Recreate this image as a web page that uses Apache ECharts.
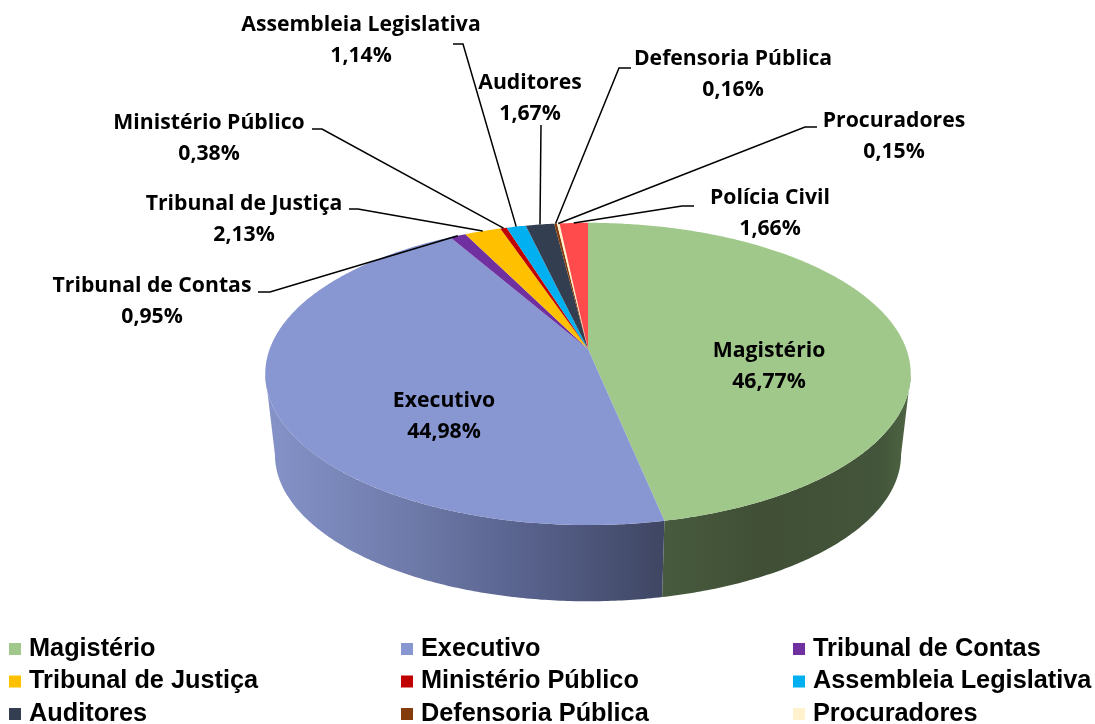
<!DOCTYPE html>
<html><head><meta charset="utf-8">
<style>html,body{margin:0;padding:0;background:#fff}#c{width:1095px;height:724px}</style>
<script src="https://cdn.jsdelivr.net/npm/echarts@6/dist/echarts.min.js"></script>
</head><body><div id="c"></div>
<script>
const categories = ['Magistério','Executivo','Tribunal de Contas','Tribunal de Justiça','Ministério Público','Assembleia Legislativa','Auditores','Defensoria Pública','Procuradores','Polícia Civil'];
const shares = [46.77,44.98,0.95,2.13,0.38,1.14,1.67,0.16,0.15,1.66];
const sliceColors = ['#A0C88A','#8896D2','#7030A0','#FFC000','#C00000','#00B0F0','#333F50','#843C0C','#FFF2CC','#FF4B4B'];
const labelCenters = [[769,366],[444,416],[152,301],[244,219],[209,138],[361,40],[530,98],[733,74],[894,136],[770,213]];
const leaderElbows = [null,null,[[258,292],[270,292]],[[349,209],[358,209]],[[312,129],[322,129]],[[453,44],[463,44]],[[541,125],[541,125]],[[631,68],[619,68]],[[817,127],[805,127]],[[694,206],[682,206]]];
const legendColumns = [
  {left:9, names:['Magistério','Tribunal de Justiça','Auditores']},
  {left:401,names:['Executivo','Ministério Público','Defensoria Pública']},
  {left:793,names:['Tribunal de Contas','Assembleia Legislativa','Procuradores']}
];
const wallStops = {
  0:[[0,'#4F6644'],[0.12,'#43553A'],[0.6,'#404F36'],[1,'#485B3E']],
  1:[[0,'#8593C9'],[0.35,'#6F7BAA'],[0.65,'#58628D'],[1,'#3F4663']]
};

const total = shares.reduce((a,b)=>a+b,0);
const starts = []; shares.reduce((a,b,i)=>{starts[i]=a;return a+b;},0);
const CX=588, CY=349, AX=318.3, AY=147, K=0.165, DROP=81.5, BOTTOM=0.97;
const VIS0=Math.acos(-K), VIS1=2*Math.PI-VIS0;
const ang=v=>v/total*2*Math.PI;
function proj(t,bottom){
  const v=Math.sin(t),u=-Math.cos(t),d=1-K*u,s=bottom?BOTTOM:1;
  return [CX+AX*s*v/d,(bottom?CY+DROP:CY)+AY*s*u/d];
}
function arc(a,b,bottom){
  const n=Math.max(2,Math.ceil(Math.abs(b-a)/0.01)),p=[];
  for(let i=0;i<=n;i++)p.push(proj(a+(b-a)*i/n,bottom));
  return p;
}
function renderSlice(i,api){
  const a=ang(starts[i]),b=a+ang(api.value(0));
  const kids=[];
  const w0=Math.max(a,VIS0),w1=Math.min(b,VIS1);
  if(w1>w0){
    const pts=arc(w0,w1,false).concat(arc(w1,w0,true));
    const xs=pts.map(p=>p[0]),x0=Math.min(...xs),x1=Math.max(...xs);
    const stops=wallStops[i].map(s=>({offset:s[0],color:s[1]}));
    kids.push({type:'polygon',z2:1,shape:{points:pts},style:{fill:{type:'linear',x:i?x0:x1,y:0,x2:i?x1:x0,y2:0,global:true,colorStops:stops}}});
  }
  const top=[[CX,CY]].concat(arc(a,b,false));
  kids.push({type:'polygon',z2:2,shape:{points:top},style:{fill:sliceColors[i]}});
  const el=leaderElbows[i];
  if(el){
    kids.push({type:'polyline',z2:3,shape:{points:el.concat([proj((a+b)/2,false)])},style:{stroke:'#000',lineWidth:1.5,fill:null}});
  }
  const c=labelCenters[i];
  kids.push({type:'text',z2:4,x:c[0],y:c[1],style:{text:categories[i]+'\n'+shares[i].toFixed(2).replace('.',',')+'%',
    align:'center',verticalAlign:'middle',fill:'#000',font:'bold 21.2px "Open Sans"',lineHeight:31}});
  return {type:'group',children:kids};
}
const option={
  animation:false,
  backgroundColor:'#fff',
  legend:legendColumns.map(c=>({
    orient:'vertical',left:c.left,top:635,height:120,padding:0,itemWidth:12,itemHeight:12,itemGap:4.5,
    icon:'rect',selectedMode:false,data:c.names,
    textStyle:{fontFamily:'"Liberation Sans"',fontWeight:'bold',fontSize:25.3,color:'#000',lineHeight:28,padding:[0,0,0,3]}
  })),
  series:categories.map((name,i)=>({
    type:'custom',name,coordinateSystem:'none',silent:true,
    itemStyle:{color:sliceColors[i]},
    data:[[shares[i]]],
    renderItem:(p,api)=>renderSlice(i,api)
  }))
};
echarts.init(document.getElementById('c'),null,{renderer:'canvas'}).setOption(option);
</script></body></html>
